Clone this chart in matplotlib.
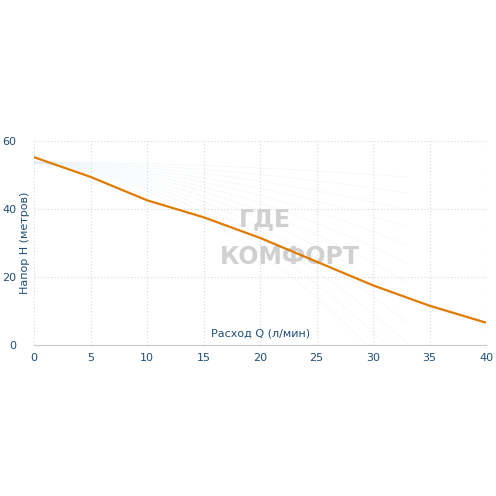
import matplotlib
matplotlib.use("Agg")
import matplotlib.pyplot as plt
import numpy as np

flow = [0, 5, 10, 15, 20, 25, 30, 35, 40]
head = [55.3, 49.5, 42.6, 37.6, 31.5, 24.5, 17.5, 11.5, 6.5]
xticks = [0, 5, 10, 15, 20, 25, 30, 35, 40]
yticks = [0, 20, 40, 60]

fig = plt.figure(figsize=(4.96, 4.96), dpi=100)
ax = fig.add_axes([0.069, 0.305, 0.911, 0.41])
ax.set_xlim(0, 40)
ax.set_ylim(0, 60)
tc = "#1f4e79"
ax.set_xticks(xticks)
ax.set_yticks(yticks)
ax.tick_params(colors=tc, length=0, labelsize=8)
ax.tick_params(axis="x", pad=6)
ax.tick_params(axis="y", pad=13)
ax.grid(True, color="#d5d8dc", linestyle=(0, (1, 2)), linewidth=0.8)
for s in ["top", "right", "left"]:
    ax.spines[s].set_visible(False)
ax.spines["bottom"].set_color("#c8ccd0")

xs = np.linspace(-3, 33, 200)
for k in range(12):
    ys = 54 - 0.0035 * (k + 1) * (xs + 3) ** 2 * (1 + 0.02 * k)
    ax.plot(xs, ys, color="#dcebf4", lw=0.5, alpha=0.4, zorder=1)

ax.text(0.51, 0.62, "ГДЕ", transform=ax.transAxes, fontsize=17, fontweight="bold",
        color="#d0d0d0", ha="center", va="center", zorder=1)
ax.text(0.565, 0.43, "КОМФОРТ", transform=ax.transAxes, fontsize=17, fontweight="bold",
        color="#d0d0d0", ha="center", va="center", zorder=1)

ax.plot(flow, head, color="#e07b00", lw=1.6, zorder=3)
ax.text(0.5, 0.03, "Расход Q (л/мин)", transform=ax.transAxes, color=tc,
        fontsize=8, ha="center", va="bottom")
ax.set_ylabel("Напор H (метров)", color=tc, fontsize=8)
ax.yaxis.set_label_coords(-0.01, 0.5)
fig.savefig("out.png", dpi=100)
